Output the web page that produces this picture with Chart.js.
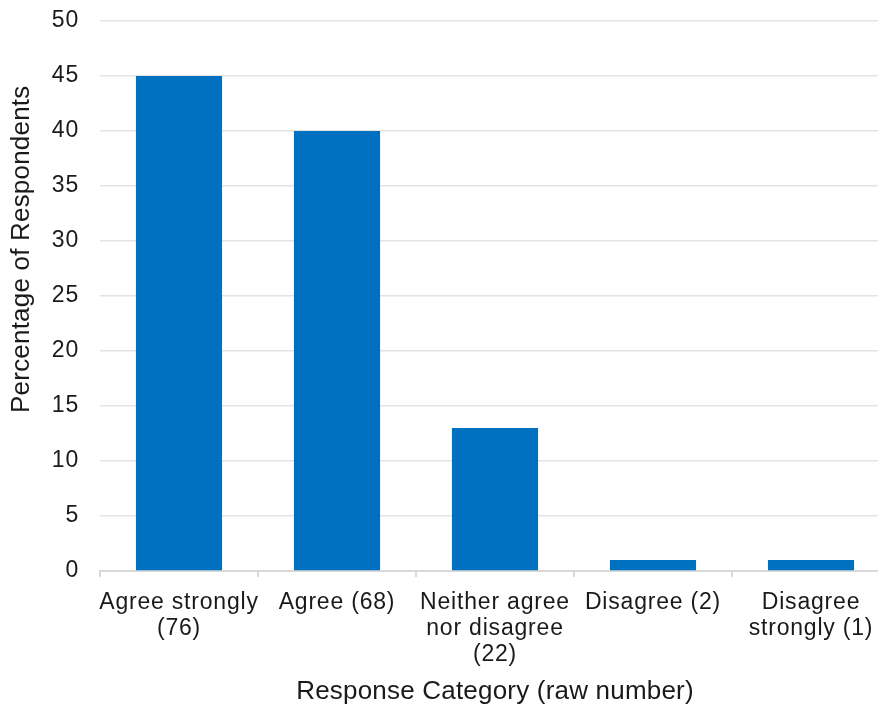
<!DOCTYPE html>
<html>
<head>
<meta charset="utf-8">
<script src="https://cdn.jsdelivr.net/npm/chart.js@4/dist/chart.umd.min.js"></script>
<style>
  html, body { margin: 0; padding: 0; background: #ffffff; overflow: hidden; }
  #wrap { width: 878px; height: 707px; overflow: hidden; }
  canvas { display: block; }
</style>
</head>
<body>
<div id="wrap"><canvas id="chart" width="900" height="707"></canvas></div>
<script>
// Survey responses: share of respondents per answer, raw counts in the labels
const categories = [
  ['Agree strongly', '(76)'],
  ['Agree (68)'],
  ['Neither agree', 'nor disagree', '(22)'],
  ['Disagree (2)'],
  ['Disagree', 'strongly (1)']
];
const percentages = [45, 40, 13, 1, 1];
const yTicks = [0, 5, 10, 15, 20, 25, 30, 35, 40, 45, 50];

const yTitle = 'Percentage of Respondents';
const xTitle = 'Response Category (raw number)';

const FONT = '"Liberation Sans", Arial, sans-serif';
const TEXT = '#1a1a1a';
const TICK_SPACING = '0.8px';

// Slightly open letter spacing for tick text
const spacing = {
  id: 'spacing',
  beforeInit(chart) { chart.ctx.letterSpacing = TICK_SPACING; },
  beforeLayout(chart) { chart.ctx.letterSpacing = TICK_SPACING; },
  beforeDraw(chart) { chart.ctx.letterSpacing = TICK_SPACING; }
};

// Axis captions: rotated one beside the y ticks, one centred under the x labels
const captions = {
  id: 'captions',
  afterDraw(chart) {
    const ctx = chart.ctx;
    const area = chart.chartArea;
    ctx.save();
    ctx.letterSpacing = '0.2px';
    ctx.font = '26px ' + FONT;
    ctx.fillStyle = TEXT;
    ctx.textAlign = 'center';
    ctx.textBaseline = 'middle';
    ctx.fillText(xTitle, (area.left + area.right) / 2, chart.height - 15);
    ctx.translate(22, area.top + (area.bottom - area.top) * 0.415);
    ctx.rotate(-Math.PI / 2);
    ctx.fillText(yTitle, 0, 0);
    ctx.restore();
  }
};

new Chart(document.getElementById('chart'), {
  type: 'bar',
  data: {
    labels: categories,
    datasets: [{
      data: percentages,
      backgroundColor: '#0070C0',
      borderWidth: 0,
      categoryPercentage: 1,
      barPercentage: 0.545
    }]
  },
  options: {
    responsive: false,
    animation: false,
    layout: { padding: { top: 21, right: 10, bottom: 0, left: 0 } },
    plugins: {
      legend: { display: false },
      tooltip: { enabled: false }
    },
    scales: {
      x: {
        offset: true,
        grid: {
          offset: true,
          drawOnChartArea: false,
          drawTicks: true,
          tickLength: 6,
          color: '#d9d9d9',
          lineWidth: 2
        },
        border: { display: true, color: '#d9d9d9', width: 2 },
        ticks: {
          color: TEXT,
          font: { family: FONT, size: 23, lineHeight: 1.13 },
          padding: 13,
          maxRotation: 0,
          autoSkip: false
        },
        afterFit(scale) {
          scale.height = 136;
          scale.paddingLeft = 0;
          scale.paddingRight = 0;
        }
      },
      y: {
        min: 0,
        max: 50,
        afterBuildTicks(scale) { scale.ticks = yTicks.map(v => ({ value: v })); },
        grid: {
          drawTicks: false,
          color: '#e3e3e3',
          lineWidth: 1.5
        },
        border: { display: false },
        ticks: {
          color: TEXT,
          font: { family: FONT, size: 23 },
          padding: 21
        },
        afterFit(scale) {
          scale.width = 100;
          scale.paddingTop = 0;
          scale.paddingBottom = 0;
        }
      }
    }
  },
  plugins: [spacing, captions]
});
</script>
</body>
</html>
